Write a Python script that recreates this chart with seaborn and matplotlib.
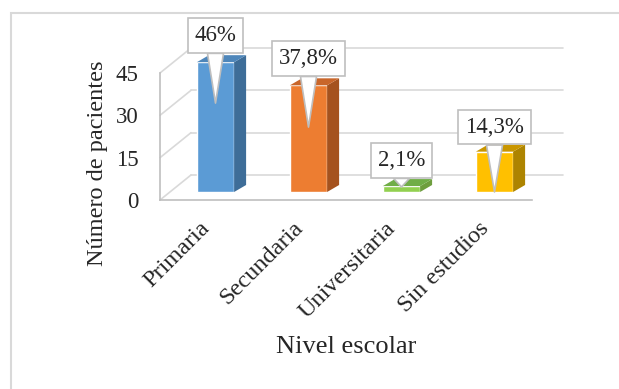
import matplotlib
matplotlib.use("Agg")
import matplotlib.pyplot as plt
import seaborn as sns
import pandas as pd
from matplotlib.patches import Polygon, Rectangle

# datos
categorias = ["Primaria", "Secundaria", "Universitaria", "Sin estudios"]
valores = [46, 37.8, 2.1, 14.3]
etiquetas = ["46%", "37,8%", "2,1%", "14,3%"]
y_ticks = [0, 15, 30, 45]

# estilo de las barras 3D
caras = ["#5B9BD5", "#ED7D31", "#92D050", "#FFC000"]
lados = ["#3E6D98", "#A5521E", "#6E9E3E", "#AD8400"]
techos = ["#4E86BA", "#C9662A", "#70AD47", "#C99600"]

# posicion de las cajas de etiqueta y de la punta (unidades del eje)
caja_y = [55.5, 47.3, 11.2, 23.0]
punta_y = [31.5, 23.0, 1.8, 0.0]

W, H = 619, 389
GRIS = "#BFBFBF"
GRID = "#D9D9D9"

sns.set_style("white")
plt.rcParams["font.family"] = ["Liberation Serif", "DejaVu Serif"]


def px(l, t, r, b):
    return [l / W, 1 - b / H, (r - l) / W, (b - t) / H]


fig = plt.figure(figsize=(W / 100, H / 100), dpi=100)
fig.patches.append(Rectangle((11 / W, -0.01), 1.0, 1 - 13 / H + 0.01,
                             transform=fig.transFigure, fill=False,
                             ec=GRID, lw=1.5))

# plano frontal (ejes)
ax = fig.add_axes(px(160, 73, 532, 200))
ax.set_xlim(-0.5, 3.5)
ax.set_ylim(0, 45)
ax.patch.set_alpha(0)
for s in ["top", "right"]:
    ax.spines[s].set_visible(False)
for s in ["left", "bottom"]:
    ax.spines[s].set_color(GRIS)
    ax.spines[s].set_linewidth(1.2)

ax.set_yticks(y_ticks)
ax.set_yticks(range(0, 46, 3), minor=True)
ax.tick_params(axis="y", which="major", direction="inout", length=11,
               color=GRIS, width=1.2, labelsize=16.5, pad=10)
ax.tick_params(axis="y", which="minor", direction="in", length=6,
               color=GRIS, width=1.2)
ax.set_xticks(range(len(categorias)))
ax.set_xticklabels(categorias, rotation=45, ha="right", va="center",
                   rotation_mode="anchor")
ax.set_xticks([3.5], minor=True)
ax.tick_params(axis="x", which="both", direction="in", length=7,
               color=GRIS, width=1.2, labelsize=17.5, pad=18)

# paredes (lineas de cuadricula en perspectiva)
bdx = 31 / 93
bdy = 25 / (127 / 45)
for v in y_ticks:
    ax.plot([-0.5, -0.5 + bdx], [v, v + bdy], color=GRID, lw=1.2,
            clip_on=False, zorder=0)
    ax.plot([-0.5 + bdx, 3.5 + bdx], [v + bdy, v + bdy], color=GRID,
            lw=1.2, clip_on=False, zorder=0)

# barras
axb = fig.add_axes(px(169, 65, 541, 192))
df = pd.DataFrame({"nivel": categorias, "valor": valores})
sns.barplot(data=df, x="nivel", y="valor", hue="nivel", palette=caras,
            width=0.4, saturation=1, legend=False, ax=axb)
axb.set_xlim(-0.5, 3.5)
axb.set_ylim(0, 45)
axb.axis("off")

dx = 12 / 93
dy = 7 / (127 / 45)
for p, lado, techo in zip(axb.patches, lados, techos):
    p.set_clip_on(False)
    x0 = p.get_x()
    x1 = x0 + p.get_width()
    h = p.get_height()
    axb.add_patch(Polygon([(x1, 0), (x1 + dx, dy), (x1 + dx, h + dy), (x1, h)],
                          closed=True, fc=lado, ec="none", clip_on=False))
    axb.add_patch(Polygon([(x0, h), (x0 + dx, h + dy), (x1 + dx, h + dy), (x1, h)],
                          closed=True, fc=techo, ec="none", clip_on=False))

# etiquetas tipo globo
for i, txt in enumerate(etiquetas):
    axb.annotate(txt, xy=(i, punta_y[i]), xytext=(i, caja_y[i]),
                 ha="center", va="center", fontsize=16.5, zorder=5,
                 annotation_clip=False,
                 bbox=dict(boxstyle="square,pad=0.3", fc="white", ec=GRIS, lw=1.2),
                 arrowprops=dict(arrowstyle="wedge,tail_width=0.7,shrink_factor=0.5",
                                 fc="white", ec=GRIS, lw=1.2,
                                 shrinkA=0, shrinkB=0))

fig.text(97 / W, 1 - 163 / H, "Número de pacientes", rotation=90,
         ha="center", va="center", fontsize=17.5)
fig.text(346 / W, 1 - 347 / H, "Nivel escolar", ha="center", va="center",
         fontsize=19)

fig.savefig("out.png", dpi=100)
